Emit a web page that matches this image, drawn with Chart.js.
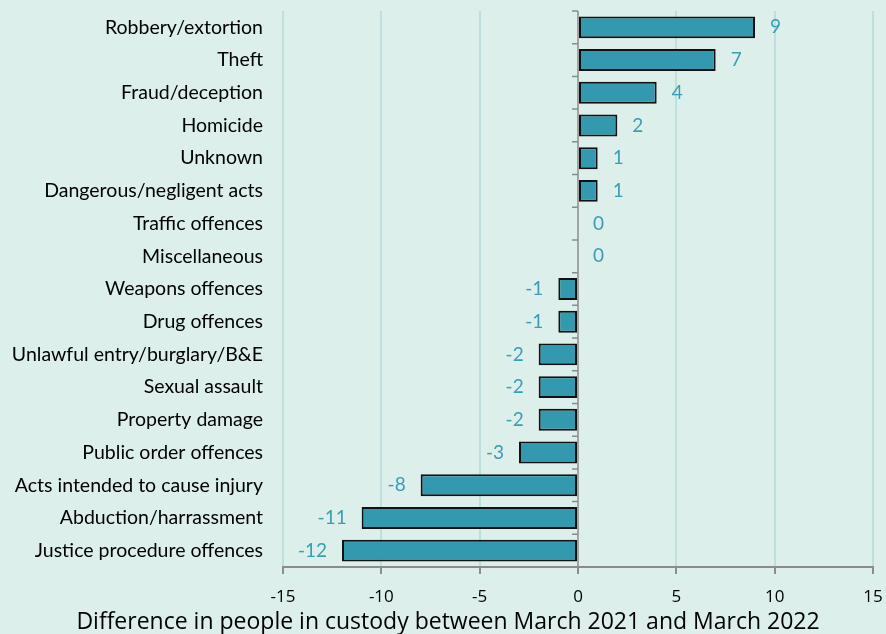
<!DOCTYPE html>
<html><head><meta charset="utf-8">
<script src="https://cdn.jsdelivr.net/npm/chart.js@4/dist/chart.umd.min.js"></script>
<style>html,body{margin:0;padding:0;background:#dcefeb;}canvas{display:block;}</style>
</head><body>
<canvas id="c" width="886" height="634"></canvas>
<script>
const categories = ["Robbery/extortion","Theft","Fraud/deception","Homicide","Unknown","Dangerous/negligent acts","Traffic offences","Miscellaneous","Weapons offences","Drug offences","Unlawful entry/burglary/B&E","Sexual assault","Property damage","Public order offences","Acts intended to cause injury","Abduction/harrassment","Justice procedure offences"];
const changes = [9,7,4,2,1,1,0,0,-1,-1,-2,-2,-2,-3,-8,-11,-12];
const xTicks = [-15,-10,-5,0,5,10,15];
const axisTitle = "Difference in people in custody between March 2021 and March 2022";

const LABEL_COLOR = '#3a9db2';
const valueLabels = {
  id: 'valueLabels',
  afterDatasetsDraw(chart) {
    const ctx = chart.ctx;
    const meta = chart.getDatasetMeta(0);
    ctx.save();
    ctx.font = '19px Lato';
    ctx.fillStyle = LABEL_COLOR;
    ctx.textBaseline = 'middle';
    meta.data.forEach((bar, i) => {
      const v = changes[i];
      const p = bar.getProps(['x','y'], true);
      if (v < 0) { ctx.textAlign = 'right'; ctx.fillText(String(v), p.x - 15, p.y); }
      else { ctx.textAlign = 'left'; ctx.fillText(String(v), p.x + 15, p.y); }
    });
    ctx.restore();
  }
};
const catTicks = {
  id: 'catTicks',
  afterDatasetsDraw(chart) {
    const ctx = chart.ctx, xs = chart.scales.x, ys = chart.scales.y;
    const x0 = xs.getPixelForValue(0);
    const step = ys.getPixelForTick(1) - ys.getPixelForTick(0);
    ctx.save();
    ctx.strokeStyle = '#8c8c8c'; ctx.lineWidth = 1.5;
    ctx.beginPath();
    ctx.moveTo(x0, chart.chartArea.top); ctx.lineTo(x0, chart.chartArea.bottom);
    for (let i = 0; i <= categories.length; i++) {
      const y = ys.getPixelForTick(0) - step/2 + i*step;
      ctx.moveTo(x0 - 6, y); ctx.lineTo(x0, y);
    }
    ctx.stroke();
    ctx.restore();
  }
};
const bottomTitle = {
  id: 'bottomTitle',
  afterDraw(chart) {
    const ctx = chart.ctx;
    ctx.save();
    ctx.font = '23px "Open Sans"';
    ctx.fillStyle = '#000';
    ctx.textAlign = 'center';
    ctx.textBaseline = 'middle';
    ctx.fillText(axisTitle, 448, chart.height - 12);
    ctx.restore();
  }
};

new Chart(document.getElementById('c'), {
  type: 'bar',
  data: { labels: categories, datasets: [{ data: changes, backgroundColor: '#3399ae', borderColor: '#111', borderWidth: 2, borderSkipped: false, categoryPercentage: 1, barPercentage: 0.67 }] },
  options: {
    indexAxis: 'y', responsive: false, animation: false,
    layout: { padding: { top: 11, right: 13, left: 0, bottom: 23 } },
    plugins: { legend: { display: false }, tooltip: { enabled: false } },
    scales: {
      x: {
        min: -15, max: 15,
        afterBuildTicks(s) { s.ticks = xTicks.map(v => ({ value: v })); },
        afterFit(s) { s.height = 44; s.paddingLeft = 0; s.paddingRight = 0; },
        grid: { color: ctx => ctx.tick && ctx.tick.value === 0 ? 'rgba(0,0,0,0)' : '#bddfde', lineWidth: 2, tickLength: 7, tickColor: '#8c8c8c', drawTicks: true },
        border: { color: '#8c8c8c', width: 2 },
        ticks: { color: '#000', font: { family: 'Open Sans', size: 17 }, padding: 13 }
      },
      y: {
        afterFit(s) { s.width = 283; s.paddingTop = 0; s.paddingBottom = 0; },
        grid: { display: false },
        border: { display: false },
        ticks: { color: '#000', font: { family: 'Lato', size: 19.5 }, padding: 12 }
      }
    }
  },
  plugins: [valueLabels, catTicks, bottomTitle]
});
</script>
</body></html>
